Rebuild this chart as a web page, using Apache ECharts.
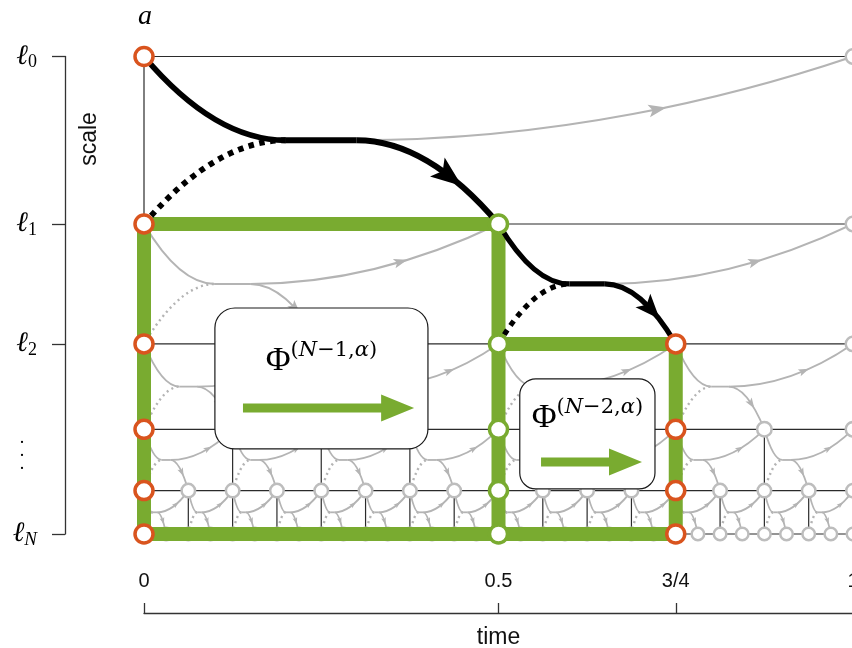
<!DOCTYPE html>
<html>
<head>
<meta charset="utf-8">
<script src="https://cdn.jsdelivr.net/npm/echarts@6/dist/echarts.min.js"></script>
<style>
  html, body { margin: 0; padding: 0; background: #fff; }
  #chart { width: 852px; height: 648px; }
</style>
</head>
<body>
<div id="chart"></div>
<script>
// Position of each refinement level on the scale axis (ℓ0 at the top, ℓN at the bottom)
const levelPos = [0, 1, 1.716, 2.226, 2.592, 2.851];
// Time step of the grid on each level
const levelStep = [1, 0.5, 0.25, 0.125, 0.0625, 0.03125];

// Grid times on each level
const level0Times = [0, 1];
const level1Times = [0, 0.5, 1];
const level2Times = [0, 0.25, 0.5, 0.75, 1];
const level3Times = [0, 0.125, 0.25, 0.375, 0.5, 0.625, 0.75, 0.875, 1];
const level4Times = [0, 0.0625, 0.125, 0.1875, 0.25, 0.3125, 0.375, 0.4375, 0.5,
  0.5625, 0.625, 0.6875, 0.75, 0.8125, 0.875, 0.9375, 1];
const level5Times = [0, 0.03125, 0.0625, 0.09375, 0.125, 0.15625, 0.1875, 0.21875,
  0.25, 0.28125, 0.3125, 0.34375, 0.375, 0.40625, 0.4375, 0.46875, 0.5, 0.53125,
  0.5625, 0.59375, 0.625, 0.65625, 0.6875, 0.71875, 0.75, 0.78125, 0.8125, 0.84375,
  0.875, 0.90625, 0.9375, 0.96875, 1];
const levelTimes = [level0Times, level1Times, level2Times, level3Times, level4Times, level5Times];

// Highlighted nodes: [time, level]
const orangeNodes = [[0, 0], [0, 1], [0, 2], [0, 3], [0, 4], [0, 5],
  [0.75, 2], [0.75, 3], [0.75, 4], [0.75, 5]];
const greenNodes = [[0.5, 1], [0.5, 2], [0.5, 3], [0.5, 4], [0.5, 5]];
// Transitions drawn in black: [time, level]
const blackMotifs = [[0, 0], [0.5, 1]];

// Thick green paths: [time, level]
const greenPathOuter = [[0, 5], [0, 1], [0.5, 1], [0.5, 5], [0, 5]];
const greenPathInner = [[0.5, 2], [0.75, 2], [0.75, 5], [0.5, 5]];

// Operator boxes: time span, scale span, arrow (time start, time tip, scale), superscript
const boxTimeSpan = [[0.1, 0.4005], [0.530, 0.7207]];
const boxScaleSpan = [[1.5015, 2.343], [1.925, 2.582]];
const boxArrows = [[0.1396, 0.381, 2.099], [0.560, 0.7024, 2.421]];
const boxSuperscripts = ['(N−1,α)', '(N−2,α)'];

// Axis ticks and labels
const timeTicks = [0, 0.5, 0.75, 1];
const timeTickLabels = ['0', '0.5', '3/4', '1'];
const scaleTicks = [0, 1, 1.716, 2.851];
const scaleLabelValues = [0, 1, 1.716, 2.355, 2.851];
const scaleLabels = ['ℓ0', 'ℓ1', 'ℓ2', '⋮', 'ℓN'];

const GREY = '#b4b4b4';
const ORANGE = '#d9541e';
const GREEN = '#79ab30';
const INK = '#1a1a1a';

// Shape of one transition cell, in fractions of (time step, level gap)
const CELL_DROP = [[0, 0], [0.05, 0.25], [0.12, 0.5], [0.2, 0.5]];
const CELL_DOT = [[0, 1], [0.05, 0.75], [0.12, 0.5], [0.2, 0.5]];
const CELL_FLAT = [[0.2, 0.5], [0.3, 0.5]];
const CELL_DOWN = [[0.3, 0.5], [0.38, 0.5], [0.45, 0.75], [0.5, 1]];
const CELL_UP = [[0.3, 0.5], [0.58, 0.5], [0.825, 0.25], [1, 0]];

function nearestIndex(list, v) {
  let best = 0;
  list.forEach((x, i) => { if (Math.abs(x - v) < Math.abs(list[best] - v)) best = i; });
  return best;
}
function isListed(list, t, k) {
  return list.some(n => n[0] === t && n[1] === k);
}

// Node lists for the scatter layers
const greyNodeData = [];
levelTimes.forEach((times, k) => {
  times.forEach(t => {
    if (!isListed(orangeNodes, t, k) && !isListed(greenNodes, t, k)) {
      greyNodeData.push([t, levelPos[k], k]);
    }
  });
});
const orangeNodeData = orangeNodes.map(n => [n[0], levelPos[n[1]], n[1]]);
const greenNodeData = greenNodes.map(n => [n[0], levelPos[n[1]], n[1]]);

// Transition cells: [time, level, mode]; mode 0 = full grey, 1 = grey upper branch only, 2 = black
const greyCells = [];
const blackCells = [];
for (let k = 0; k < levelTimes.length - 1; k++) {
  levelTimes[k].forEach(t => {
    if (t >= 1) return;
    if (isListed(blackMotifs, t, k)) {
      greyCells.push([t, k, 1]);
      blackCells.push([t, k, 2]);
    } else {
      greyCells.push([t, k, 0]);
    }
  });
}

// Thin level lines: [kind, time, level]; kind 0 = horizontal, 1 = vertical drop to next level
const thinLines = [];
levelPos.forEach((_, k) => thinLines.push([0, 0, k]));
for (let k = 0; k < levelTimes.length - 1; k++) {
  levelTimes[k].forEach(t => thinLines.push([1, t, k]));
}

function cubicAt(p, t) {
  const m = 1 - t, a = m * m * m, b = 3 * m * m * t, c = 3 * m * t * t, d = t * t * t;
  return [a * p[0][0] + b * p[1][0] + c * p[2][0] + d * p[3][0],
          a * p[0][1] + b * p[1][1] + c * p[2][1] + d * p[3][1]];
}
function cubicTangent(p, t) {
  const m = 1 - t, a = 3 * m * m, b = 6 * m * t, c = 3 * t * t;
  return [a * (p[1][0] - p[0][0]) + b * (p[2][0] - p[1][0]) + c * (p[3][0] - p[2][0]),
          a * (p[1][1] - p[0][1]) + b * (p[2][1] - p[1][1]) + c * (p[3][1] - p[2][1])];
}
function bezier(p, style) {
  return {
    type: 'bezierCurve',
    shape: { x1: p[0][0], y1: p[0][1], cpx1: p[1][0], cpy1: p[1][1],
             cpx2: p[2][0], cpy2: p[2][1], x2: p[3][0], y2: p[3][1] },
    style: Object.assign({ fill: null }, style)
  };
}
function arrowHead(p, dir, len, wid, color) {
  const n = Math.hypot(dir[0], dir[1]);
  const ux = dir[0] / n, uy = dir[1] / n, nx = -uy, ny = ux;
  const tip = [p[0] + ux * len * 0.5, p[1] + uy * len * 0.5];
  const back = [p[0] - ux * len * 0.5, p[1] - uy * len * 0.5];
  const notch = [p[0] - ux * len * 0.28, p[1] - uy * len * 0.28];
  return {
    type: 'polygon',
    shape: { points: [tip, [back[0] + nx * wid / 2, back[1] + ny * wid / 2], notch,
                      [back[0] - nx * wid / 2, back[1] - ny * wid / 2]] },
    style: { fill: color }
  };
}

function renderCell(items) {
  return function (params, api) {
    const [t, k, mode] = items[params.dataIndex];
    const d = levelStep[k], s0 = levelPos[k], s1 = levelPos[k + 1];
    const pt = (q) => api.coord([t + q[0] * d, s0 + q[1] * (s1 - s0)]);
    const map = (shape) => shape.map(pt);
    const gap = pt([0, 1])[1] - pt([0, 0])[1];
    const children = [];
    const up = map(CELL_UP);
    const greyW = k < 2 ? 2 : 1.8;
    const aLen = 3 + 0.09 * gap, aWid = aLen * 0.7;

    if (mode === 0 || mode === 1) {
      children.push(bezier(up, { stroke: GREY, lineWidth: greyW }));
      children.push(arrowHead(cubicAt(up, 0.55), cubicTangent(up, 0.55), aLen, aWid, GREY));
    }
    if (mode === 0 || mode === 2) {
      const black = mode === 2;
      const color = black ? '#000' : GREY;
      const w = black ? (k === 0 ? 5.8 : 5.2) : greyW;
      const dash = black ? [5.5, 5.5] : [2, 3.5];
      const down = map(CELL_DOWN);
      children.push(bezier(map(CELL_DOT), { stroke: color, lineWidth: black ? w : 2.4, lineDash: dash }));
      children.push(bezier(map(CELL_DROP), { stroke: color, lineWidth: w }));
      const f = map(CELL_FLAT);
      children.push({ type: 'line', shape: { x1: f[0][0], y1: f[0][1], x2: f[1][0], y2: f[1][1] },
                      style: { stroke: color, lineWidth: w } });
      children.push(bezier(down, { stroke: color, lineWidth: w }));
      const at = black ? 0.6 : 0.58;
      const len = black ? (k === 0 ? 31 : 25) : aLen;
      const wid = black ? (k === 0 ? 24 : 20) : aWid;
      children.push(arrowHead(cubicAt(down, at), cubicTangent(down, at), len, wid, color));
    }
    return { type: 'group', children };
  };
}

function renderThinLine(params, api) {
  const [kind, t, k] = thinLines[params.dataIndex];
  let a, b;
  if (kind === 0) {
    a = api.coord([0, levelPos[k]]); b = api.coord([1, levelPos[k]]);
  } else {
    a = api.coord([t, levelPos[k]]); b = api.coord([t, levelPos[k + 1]]);
  }
  return { type: 'line', shape: { x1: a[0], y1: a[1], x2: b[0], y2: b[1] },
           style: { stroke: '#2b2b2b', lineWidth: 1.2 } };
}

function superscriptRich(s) {
  return s.split('').map(ch => (/[Nα]/.test(ch) ? '{si|' + ch + '}' : '{su|' + ch + '}')).join('');
}

function renderBox(params, api) {
  const i = params.dataIndex;
  const a = api.coord([boxTimeSpan[i][0], boxScaleSpan[i][0]]);
  const b = api.coord([boxTimeSpan[i][1], boxScaleSpan[i][1]]);
  const x = a[0], y = a[1], w = b[0] - a[0], h = b[1] - a[1];
  const arr = boxArrows[i];
  const p0 = api.coord([arr[0], arr[2]]), p1 = api.coord([arr[1], arr[2]]);
  const headLen = 33, headHalf = 13.5, shaftHalf = 4.5;
  const hx = p1[0] - headLen, ay = p0[1];
  return {
    type: 'group',
    children: [
      { type: 'rect', shape: { x, y, width: w, height: h, r: i === 0 ? 20 : 16 },
        style: { fill: '#fff', stroke: INK, lineWidth: 1.2 } },
      { type: 'text', x: x + w / 2, y: y + 0.435 * h - 10.4,
        style: {
          text: '{phi|Φ}' + superscriptRich(boxSuperscripts[i]),
          align: 'center', verticalAlign: 'middle',
          rich: {
            phi: { fontFamily: 'Liberation Serif', fontSize: 34, lineHeight: 38, fill: '#000', verticalAlign: 'bottom' },
            su: { fontFamily: 'DejaVu Serif', fontSize: 21, lineHeight: 22, fill: '#000', verticalAlign: 'top' },
            si: { fontFamily: 'DejaVu Serif', fontStyle: 'italic', fontSize: 21, lineHeight: 22, fill: '#000', verticalAlign: 'top' }
          }
        } },
      { type: 'polygon',
        shape: { points: [[p0[0], ay - shaftHalf], [hx, ay - shaftHalf], [hx, ay - headHalf],
                          [p1[0], ay], [hx, ay + headHalf], [hx, ay + shaftHalf], [p0[0], ay + shaftHalf]] },
        style: { fill: GREEN } }
    ]
  };
}

function scaleLabelRich(label) {
  if (label === '⋮') return '{d|.}\n{d|.}\n{d|.}';
  const sub = label.slice(1);
  return '{l|ℓ}' + (sub === 'N' ? '{n|N}' : '{s|' + sub + '}');
}

const chart = echarts.init(document.getElementById('chart'), null, { renderer: 'canvas' });

chart.setOption({
  animation: false,
  backgroundColor: '#fff',
  title: {
    text: 'a', left: 133, top: -2,
    textStyle: { fontFamily: 'Liberation Serif', fontStyle: 'italic', fontWeight: 'normal', fontSize: 28, color: '#000' }
  },
  graphic: [{
    type: 'text', x: 90, y: 139, rotation: Math.PI / 2,
    style: { text: 'scale', font: '23px "Liberation Sans"', fill: '#111', align: 'center', verticalAlign: 'middle' }
  }],
  grid: { left: 144, top: 56.5, width: 709, height: 477.5, containLabel: false, outerBoundsMode: 'none' },
  xAxis: {
    type: 'value', min: 0, max: 1, position: 'bottom', offset: 79,
    axisLine: { show: true, onZero: false, lineStyle: { color: '#333', width: 1.3 } },
    axisTick: { show: true, inside: true, length: 10, customValues: timeTicks, lineStyle: { color: '#333', width: 1.3 } },
    axisLabel: {
      inside: true, margin: 22, customValues: timeTicks,
      formatter: v => timeTickLabels[nearestIndex(timeTicks, v)],
      fontFamily: 'Liberation Sans', fontSize: 20, color: '#111'
    },
    splitLine: { show: false },
    name: 'time', nameLocation: 'middle', nameGap: 13,
    nameTextStyle: { fontFamily: 'Liberation Sans', fontSize: 23, color: '#111' }
  },
  yAxis: {
    type: 'value', min: 0, max: 2.851, inverse: true, position: 'left', offset: 79,
    axisLine: { show: true, onZero: false, lineStyle: { color: '#333', width: 1.3 } },
    axisTick: { show: true, length: 13, customValues: scaleTicks, lineStyle: { color: '#333', width: 1.3 } },
    axisLabel: {
      margin: 28, customValues: scaleLabelValues,
      formatter: v => scaleLabelRich(scaleLabels[nearestIndex(scaleLabelValues, v)]),
      rich: {
        l: { fontFamily: 'DejaVu Serif', fontStyle: 'italic', fontSize: 28, lineHeight: 30, color: '#000' },
        s: { fontFamily: 'Liberation Serif', fontSize: 18, lineHeight: 17, verticalAlign: 'bottom', color: '#000' },
        n: { fontFamily: 'Liberation Serif', fontStyle: 'italic', fontSize: 19, lineHeight: 17, verticalAlign: 'bottom', color: '#000' },
        d: { fontFamily: 'Liberation Serif', fontSize: 18, lineHeight: 13, width: 30, align: 'center', color: '#000' }
      }
    },
    splitLine: { show: false }
  },
  series: [
    { type: 'custom', name: 'levels', z: 1, silent: true, clip: false,
      data: thinLines, renderItem: renderThinLine },
    { type: 'custom', name: 'transitions', z: 2, silent: true, clip: false,
      data: greyCells, renderItem: renderCell(greyCells) },
    { type: 'scatter', name: 'nodes', z: 3, silent: true, clip: false,
      data: greyNodeData, symbol: 'circle',
      symbolSize: v => (v[2] <= 3 ? 14.5 : v[2] === 4 ? 13.5 : 12.5),
      itemStyle: { color: '#fff', borderColor: '#bdbdbd', borderWidth: 2.5, opacity: 1 } },
    { type: 'line', name: 'path', z: 4, silent: true, clip: false, symbol: 'none',
      data: greenPathOuter.map(n => [n[0], levelPos[n[1]]]),
      lineStyle: { color: GREEN, width: 14, join: 'miter', cap: 'butt' } },
    { type: 'line', name: 'path2', z: 4, silent: true, clip: false, symbol: 'none',
      data: greenPathInner.map(n => [n[0], levelPos[n[1]]]),
      lineStyle: { color: GREEN, width: 14, join: 'miter', cap: 'butt' } },
    { type: 'custom', name: 'coupled', z: 5, silent: true, clip: false,
      data: blackCells, renderItem: renderCell(blackCells) },
    { type: 'scatter', name: 'start', z: 6, silent: true, clip: false,
      data: orangeNodeData, symbol: 'circle', symbolSize: 18,
      itemStyle: { color: '#fff', borderColor: ORANGE, borderWidth: 3.5, opacity: 1 } },
    { type: 'scatter', name: 'mid', z: 6, silent: true, clip: false,
      data: greenNodeData, symbol: 'circle', symbolSize: 18,
      itemStyle: { color: '#fff', borderColor: GREEN, borderWidth: 3.5, opacity: 1 } },
    { type: 'custom', name: 'operators', z: 7, silent: true, clip: false,
      data: boxTimeSpan.map((s, i) => [s[0], boxScaleSpan[i][0]]), renderItem: renderBox }
  ]
});
</script>
</body>
</html>
